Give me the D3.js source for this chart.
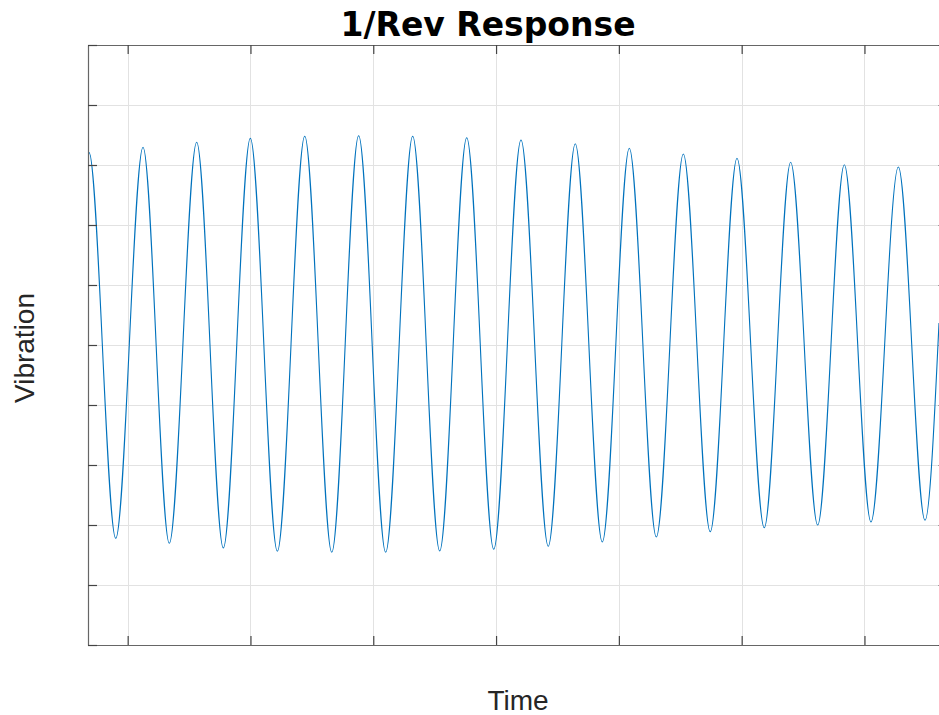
<!DOCTYPE html>
<html lang="en">
  <head>
    <meta charset="utf-8" />
    <title>1/Rev Response</title>
    <script src="https://d3js.org/d3.v7.min.js"></script>
    <style>
      body { margin: 0; background: #fff; }
      svg { display: block; }
    </style>
  </head>
  <body>
    <script type="text/javascript">
      /*************************** Data ***************************/

      // peaks and troughs of the response
      var time = [
        0.677, 0.685, 0.903, 1.125, 1.339, 1.562, 1.779, 1.999, 2.219, 2.442, 2.662,
        2.881, 3.101, 3.321, 3.541, 3.761, 3.981, 4.203, 4.425, 4.645, 4.865,
        5.085, 5.305, 5.525, 5.744, 5.962, 6.184, 6.399, 6.619, 6.836, 7.053,
        7.276, 7.493, 7.607
      ];
      var vibration = [
        3.2, 3.21, -3.222, 3.295, -3.305, 3.378, -3.383, 3.445, -3.438, 3.478, -3.455,
        3.488, -3.455, 3.478, -3.433, 3.455, -3.405, 3.417, -3.355, 3.355, -3.283,
        3.278, -3.2, 3.183, -3.113, 3.112, -3.045, 3.045, -3.0, 3.005, -2.95,
        2.967, -2.922, 0.367
      ];
      var x_ticks = [1, 2, 3, 4, 5, 6, 7];
      var y_ticks = [-5, -4, -3, -2, -1, 0, 1, 2, 3, 4, 5];

      /*************************** Canvas ***************************/

      var width = 939, height = 715;
      var m_left = 88, m_right = 947.6, m_top = 45, m_bottom = 645;

      var svg = d3.select("body").append("svg")
        .attr("width", width)
        .attr("height", height);

      var x = d3.scaleLinear().domain([0.677, 7.677]).range([m_left, m_right]);
      var y = d3.scaleLinear().domain([-5, 5]).range([m_bottom, m_top]);

      /*************************** Grid ***************************/

      var grid = svg.append("g").attr("class", "grid");
      grid.selectAll(".gx").data(x_ticks).enter().append("line")
        .attr("x1", d => Math.round(x(d)) + 0.5).attr("x2", d => Math.round(x(d)) + 0.5)
        .attr("y1", m_top).attr("y2", m_bottom)
        .attr("stroke", "#e2e2e2").attr("stroke-width", 1);
      grid.selectAll(".gy").data(y_ticks).enter().append("line")
        .attr("y1", d => Math.round(y(d)) + 0.5).attr("y2", d => Math.round(y(d)) + 0.5)
        .attr("x1", m_left).attr("x2", m_right)
        .attr("stroke", "#e2e2e2").attr("stroke-width", 1);

      /*************************** Line ***************************/

      svg.append("clipPath").attr("id", "clip")
        .append("rect").attr("x", m_left).attr("y", m_top)
        .attr("width", m_right - m_left).attr("height", m_bottom - m_top);

      var line_gen = d3.line()
        .x(d => x(d[0]))
        .y(d => y(d[1]))
        .curve(d3.curveMonotoneX);

      svg.append("path")
        .datum(d3.zip(time, vibration))
        .attr("clip-path", "url(#clip)")
        .attr("d", line_gen)
        .attr("fill", "none")
        .attr("stroke", "#0072bd")
        .attr("stroke-width", 1.1);

      /*************************** Axes ***************************/

      function style_axis(g) {
        g.select(".domain").attr("stroke", "#666").attr("stroke-width", 1.2);
        g.selectAll(".tick line").attr("stroke", "#444").attr("stroke-width", 1.2);
      }

      svg.append("g").attr("transform", "translate(0," + m_bottom + ")")
        .call(d3.axisBottom(x).tickValues(x_ticks).tickSizeInner(-9).tickSizeOuter(0).tickFormat(""))
        .call(style_axis);
      svg.append("g").attr("transform", "translate(0," + m_top + ")")
        .call(d3.axisTop(x).tickValues(x_ticks).tickSizeInner(-9).tickSizeOuter(0).tickFormat(""))
        .call(style_axis);
      svg.append("g").attr("transform", "translate(" + m_left + ",0)")
        .call(d3.axisLeft(y).tickValues(y_ticks).tickSizeInner(-9).tickSizeOuter(0).tickFormat(""))
        .call(style_axis);
      svg.append("g").attr("transform", "translate(" + m_right + ",0)")
        .call(d3.axisRight(y).tickValues(y_ticks).tickSizeInner(-9).tickSizeOuter(0).tickFormat(""))
        .call(style_axis);

      /*************************** Text ***************************/

      svg.append("text")
        .attr("x", 488).attr("y", 36)
        .attr("text-anchor", "middle")
        .style("font-family", "DejaVu Sans, Verdana, sans-serif")
        .style("font-weight", "bold")
        .style("font-size", "33px")
        .attr("fill", "#000")
        .text("1/Rev Response");

      svg.append("text")
        .attr("x", 518).attr("y", 710)
        .attr("text-anchor", "middle")
        .style("font-family", "Liberation Sans, Arial, sans-serif")
        .style("font-size", "28px")
        .attr("fill", "#262626")
        .text("Time");

      svg.append("text")
        .attr("transform", "translate(34,348) rotate(-90)")
        .attr("text-anchor", "middle")
        .style("font-family", "Liberation Sans, Arial, sans-serif")
        .style("font-size", "28px")
        .attr("fill", "#262626")
        .text("Vibration");
    </script>
  </body>
</html>
